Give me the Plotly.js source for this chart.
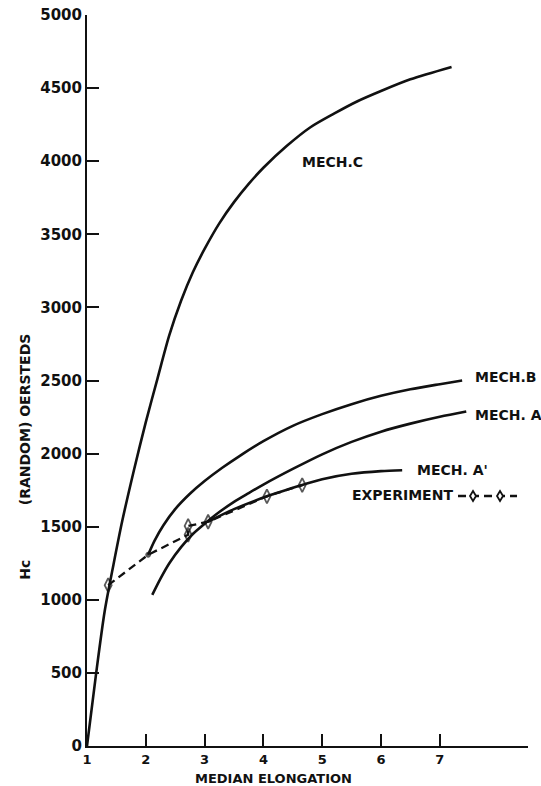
<!DOCTYPE html>
<html>
<head>
<meta charset="utf-8">
<script src="https://cdn.plot.ly/plotly-3.0.1.min.js"></script>
<style>html,body{margin:0;padding:0;background:#fff;}#chart{width:541px;height:786px;}</style>
</head>
<body>
<div id="chart"></div>
<script>
// ---- data ----
const mechCx = [1.0, 1.15, 1.3, 1.45, 1.6, 1.8, 2.0, 2.2, 2.4, 2.6, 2.8, 3.0, 3.25, 3.5, 3.75, 4.0, 4.4, 4.8, 5.2, 5.6, 6.0, 6.5, 7.2];
const mechCy = [0, 480, 920, 1240, 1540, 1890, 2215, 2515, 2810, 3045, 3240, 3400, 3575, 3720, 3845, 3955, 4105, 4232, 4325, 4410, 4480, 4560, 4645];

const mechBx = [2.04, 2.15, 2.3, 2.5, 2.75, 3.0, 3.3, 3.6, 4.0, 4.5, 5.0, 5.5, 6.0, 6.5, 7.0, 7.38];
const mechBy = [1308, 1405, 1510, 1620, 1725, 1812, 1903, 1985, 2085, 2190, 2270, 2338, 2395, 2440, 2475, 2500];

const mechAx = [2.11, 2.25, 2.4, 2.6, 2.8, 3.0, 3.25, 3.5, 3.75, 4.0, 4.5, 5.0, 5.5, 6.0, 6.5, 7.0, 7.45];
const mechAy = [1034, 1145, 1250, 1360, 1450, 1520, 1600, 1670, 1730, 1788, 1895, 1995, 2080, 2150, 2205, 2252, 2288];

const mechApx = [3.06, 3.5, 4.06, 4.66, 5.0, 5.5, 6.0, 6.36];
const mechApy = [1534, 1620, 1708, 1785, 1825, 1862, 1880, 1886];

const expX = [1.36, 2.04, 2.72, 2.72, 3.06, 4.06, 4.66];
const expY = [1100, 1308, 1445, 1505, 1534, 1708, 1785];

const xTickVals = [1, 2, 3, 4, 5, 6, 7];
const xTickText = ['1', '2', '3', '4', '5', '6', '7'];
const yTickVals = [0, 500, 1000, 1500, 2000, 2500, 3000, 3500, 4000, 4500, 5000];
const yTickText = ['0', '500', '1000', '1500', '2000', '2500', '3000', '3500', '4000', '4500', '5000'];

const curveLabels = ['MECH.C', 'MECH.B', 'MECH. A', "MECH. A'", 'EXPERIMENT'];
const labelX = [4.62, 7.56, 7.56, 6.58, 5.47];
const labelY = [3993, 2521, 2267, 1890, 1719];

const xTitle = 'MEDIAN ELONGATION';
const yTitleA = 'Hc';
const yTitleB = '(RANDOM) OERSTEDS';

// ---- styling ----
const INK = '#111';
const FONT = 'DejaVu Sans';
const curve = (x, y) => ({
  x: x, y: y, type: 'scatter', mode: 'lines',
  line: {color: INK, width: 2.6, shape: 'spline', smoothing: 0.8},
  hoverinfo: 'skip', showlegend: false
});

const traces = [
  curve(mechCx, mechCy),
  curve(mechBx, mechBy),
  curve(mechAx, mechAy),
  curve(mechApx, mechApy),
  {
    x: expX, y: expY, type: 'scatter', mode: 'lines+markers',
    line: {color: INK, width: 2.3, dash: '8px,5px'},
    marker: {
      symbol: expX.map((_, i) => i === 1 ? 'circle' : 'diamond-tall-open'),
      size: expX.map((_, i) => i === 1 ? 4 : 10),
      color: INK, line: {color: INK, width: 1.8}
    },
    hoverinfo: 'skip', showlegend: false
  }
];

const annotations = curveLabels.map((t, i) => ({
  text: t, x: labelX[i], y: labelY[i], xref: 'x', yref: 'y',
  xanchor: 'left', yanchor: 'middle', showarrow: false,
  font: {family: FONT, size: 14, color: INK, weight: 'bold'}
}));
annotations.push({
  text: xTitle, x: 0.424, y: -0.0438, xref: 'paper', yref: 'paper',
  xanchor: 'center', yanchor: 'middle', showarrow: false,
  font: {family: FONT, size: 13, color: INK, weight: 'bold'}
});
annotations.push({
  text: yTitleA, x: -0.1406, y: 0.241, xref: 'paper', yref: 'paper', textangle: -90,
  xanchor: 'center', yanchor: 'middle', showarrow: false,
  font: {family: FONT, size: 14, color: INK, weight: 'bold'}
});
annotations.push({
  text: yTitleB, x: -0.1406, y: 0.447, xref: 'paper', yref: 'paper', textangle: -90,
  xanchor: 'center', yanchor: 'middle', showarrow: false,
  font: {family: FONT, size: 14, color: INK, weight: 'bold'}
});

// legend key for EXPERIMENT (dashed line with two open diamonds)
const keyAnchorX = 0.8413, keyAnchorY = 0.342;
const shapes = [
  {type: 'line', xref: 'paper', yref: 'paper', xsizemode: 'pixel', ysizemode: 'pixel',
   xanchor: keyAnchorX, yanchor: keyAnchorY, x0: 0, x1: 59, y0: 0, y1: 0,
   line: {color: INK, width: 2.3, dash: '8px,5px'}},
  {type: 'path', xref: 'paper', yref: 'paper', xsizemode: 'pixel', ysizemode: 'pixel',
   xanchor: keyAnchorX, yanchor: keyAnchorY, path: 'M12,0 L15,5 L18,0 L15,-5 Z',
   fillcolor: '#fff', line: {color: INK, width: 1.8}},
  {type: 'path', xref: 'paper', yref: 'paper', xsizemode: 'pixel', ysizemode: 'pixel',
   xanchor: keyAnchorX, yanchor: keyAnchorY, path: 'M39,0 L42,5 L45,0 L42,-5 Z',
   fillcolor: '#fff', line: {color: INK, width: 1.8}}
];

const layout = {
  width: 541, height: 786,
  margin: {l: 87, r: 13, t: 15, b: 40},
  paper_bgcolor: '#fff', plot_bgcolor: '#fff',
  showlegend: false,
  xaxis: {
    range: [1, 8.5], tickvals: xTickVals, ticktext: xTickText,
    ticks: 'inside', ticklen: 12, tickwidth: 2, tickcolor: INK,
    showline: true, linewidth: 2, linecolor: INK,
    showgrid: false, zeroline: false, fixedrange: true,
    tickfont: {family: FONT, size: 13, color: INK, weight: 'bold'}
  },
  yaxis: {
    range: [0, 5000], tickvals: yTickVals, ticktext: yTickText,
    ticks: 'inside', ticklen: 12, tickwidth: 2, tickcolor: INK,
    showline: true, linewidth: 2, linecolor: INK,
    showgrid: false, zeroline: false, fixedrange: true,
    tickfont: {family: FONT, size: 15, color: INK, weight: 'bold'}
  },
  annotations: annotations,
  shapes: shapes
};

Plotly.newPlot('chart', traces, layout, {staticPlot: true, displayModeBar: false});
</script>
</body>
</html>
